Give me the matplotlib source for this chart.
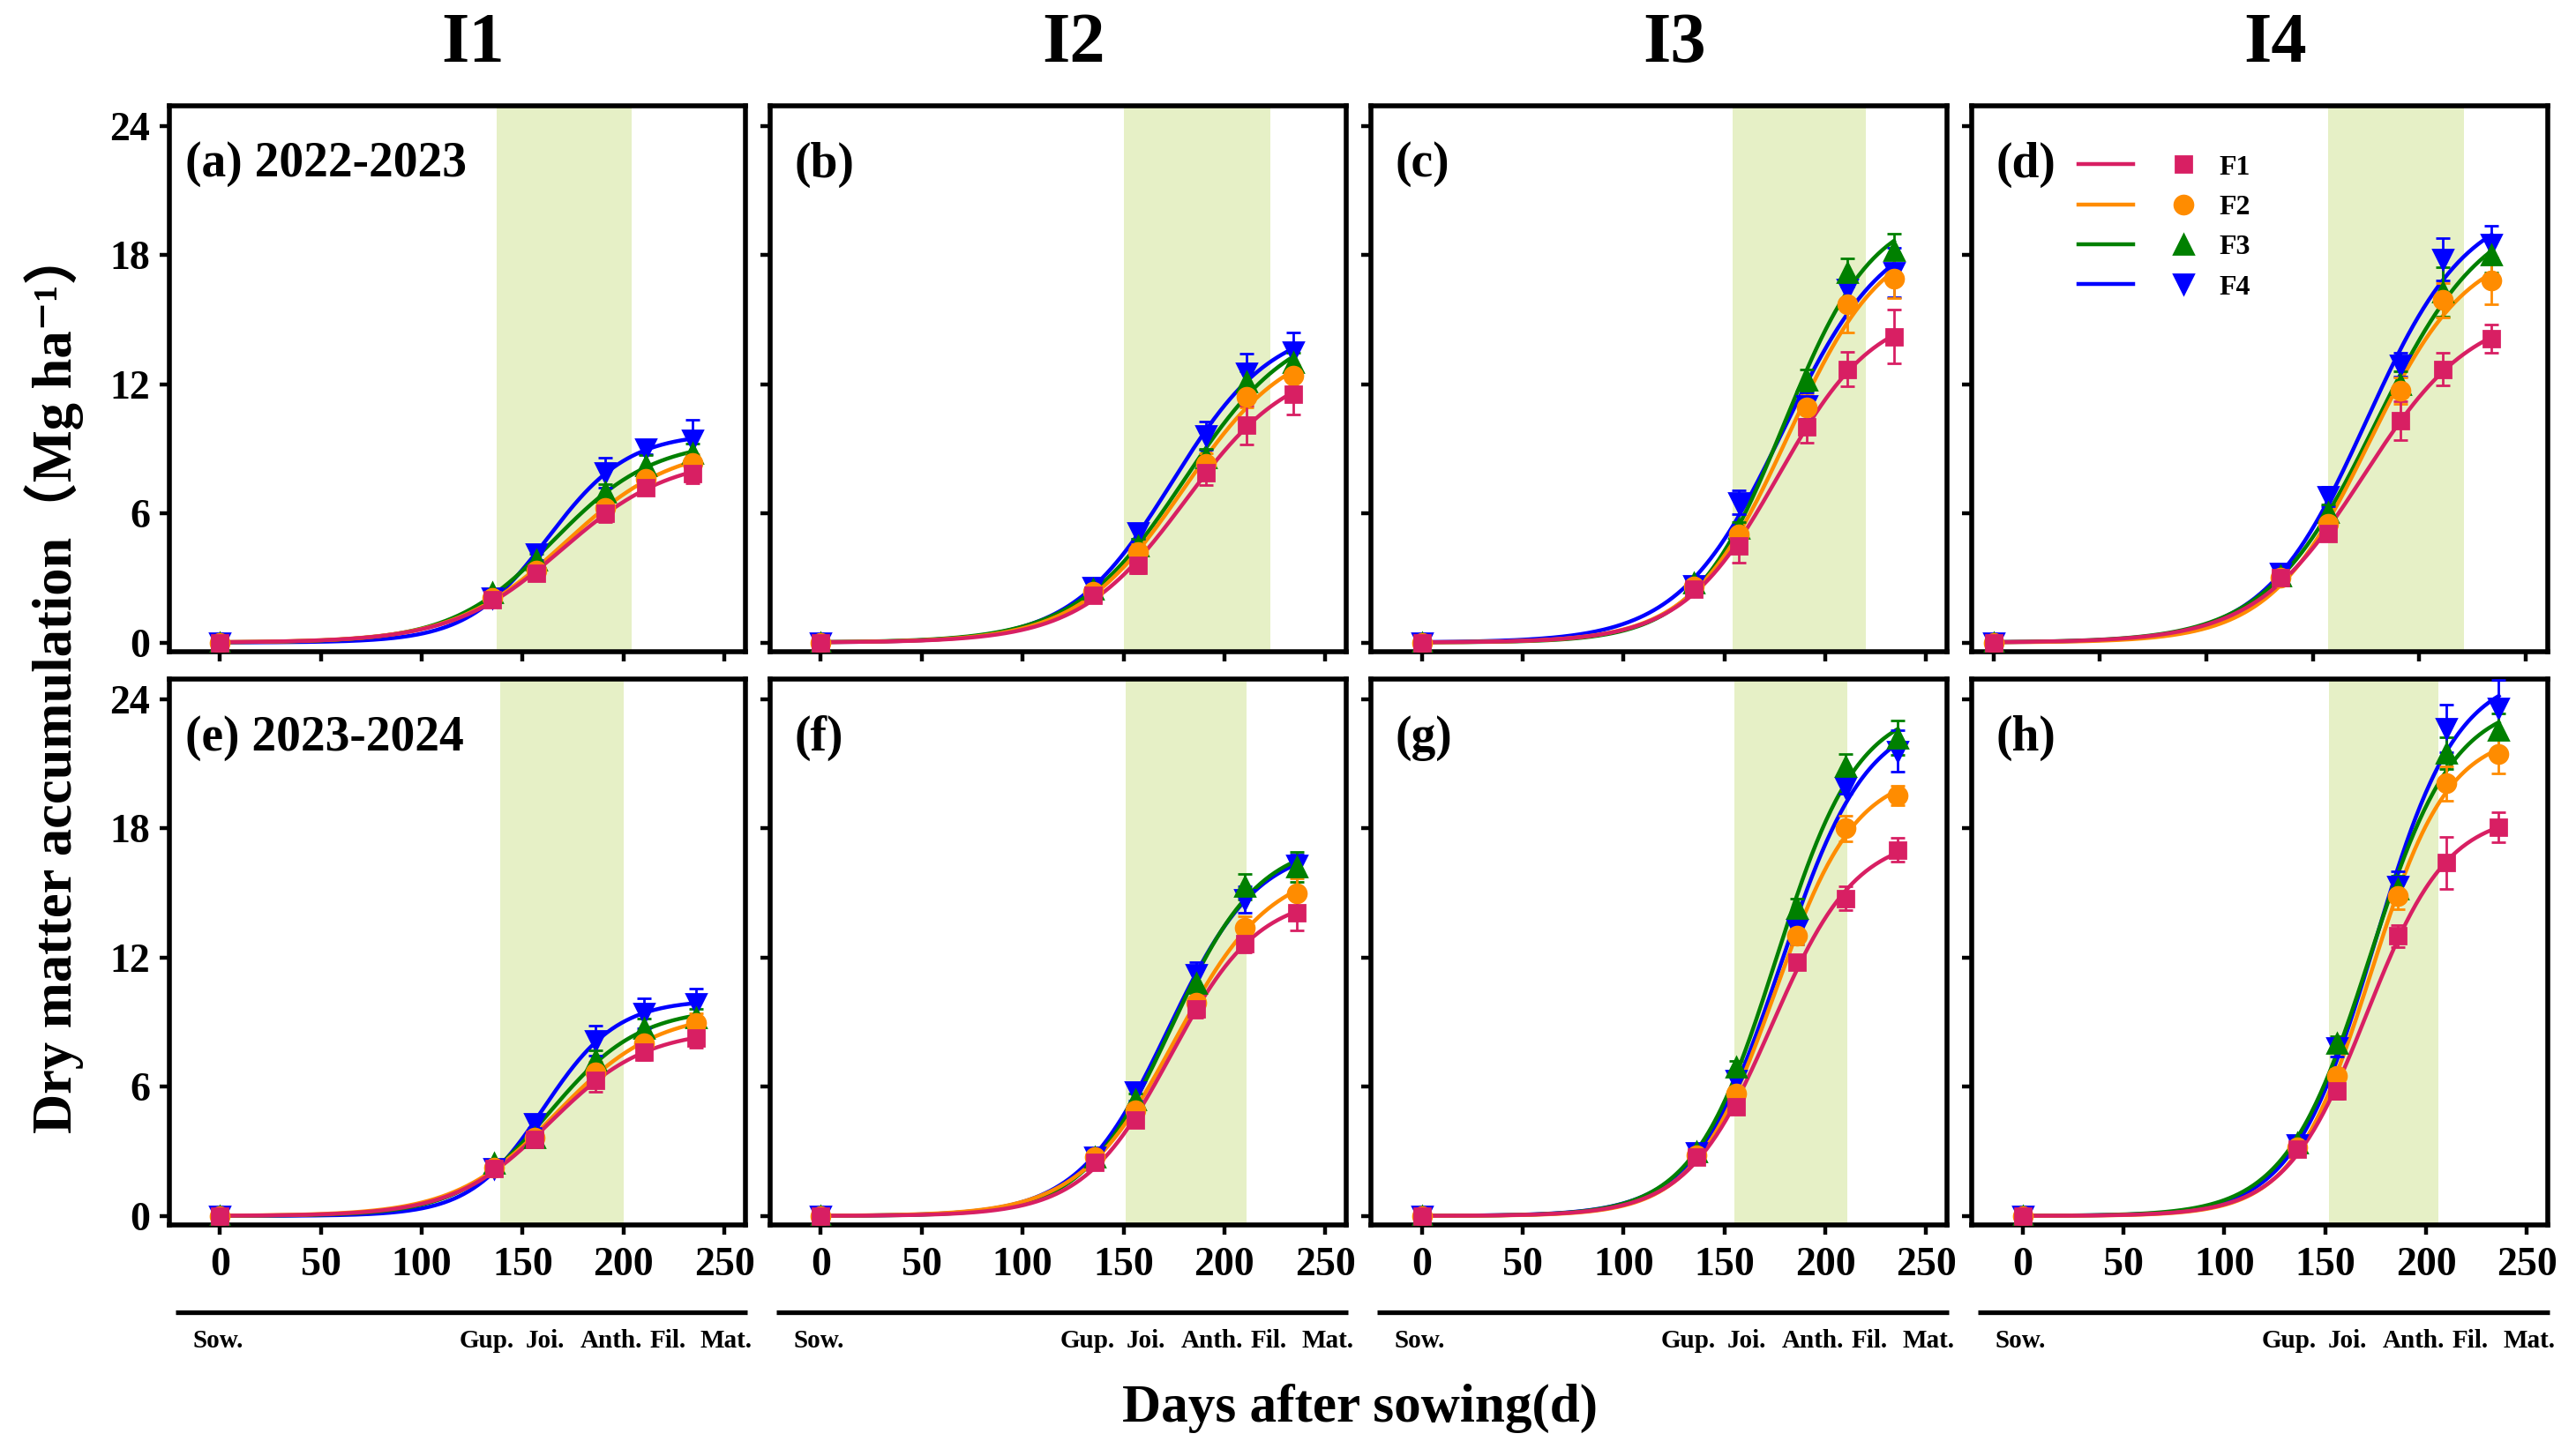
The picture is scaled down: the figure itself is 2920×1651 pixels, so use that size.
import numpy as np
import matplotlib
matplotlib.use('Agg')
import matplotlib.pyplot as plt
from matplotlib.lines import Line2D
from matplotlib.legend_handler import HandlerTuple
import matplotlib.transforms as mtransforms

plt.rcParams['font.family'] = ['Liberation Serif', 'Noto Sans CJK SC', 'DejaVu Serif']
plt.rcParams['font.weight'] = 'bold'

# sampling days (days after sowing)
days_2223 = [0, 135, 157, 191, 211, 234]
days_2324 = [0, 136, 156, 186, 210, 236]

treatments = ['F1', 'F2', 'F3', 'F4']
colors = ['#d81f63', '#ff8c00', '#008000', '#0000ff']
markers = ['s', 'o', '^', 'v']
msizes = [6.5, 7.5, 8, 8]

irrigation = ['I1', 'I2', 'I3', 'I4']
panel_tags = ['(a) 2022-2023', '(b)', '(c)', '(d)', '(e) 2023-2024', '(f)', '(g)', '(h)']

# dry matter (Mg ha-1), rows F1..F4
dm_a = [[0, 2.0, 3.2, 6.0, 7.2, 7.85],
        [0, 2.05, 3.35, 6.25, 7.6, 8.35],
        [0, 2.3, 3.85, 7.0, 8.2, 8.8],
        [0, 2.05, 4.1, 7.9, 9.0, 9.4]]
dm_b = [[0, 2.2, 3.6, 7.9, 10.1, 11.55],
        [0, 2.35, 4.2, 8.3, 11.4, 12.4],
        [0, 2.5, 4.5, 8.6, 12.1, 13.0],
        [0, 2.55, 5.1, 9.6, 12.5, 13.5]]
dm_c = [[0, 2.5, 4.5, 10.0, 12.7, 14.2],
        [0, 2.6, 5.0, 10.9, 15.7, 16.9],
        [0, 2.75, 5.3, 12.2, 17.2, 18.2],
        [0, 2.65, 6.5, 11.0, 16.4, 17.2]]
dm_d = [[0, 3.0, 5.05, 10.3, 12.7, 14.1],
        [0, 3.0, 5.5, 11.7, 15.9, 16.8],
        [0, 3.1, 6.05, 12.0, 16.3, 18.0],
        [0, 3.2, 6.8, 12.9, 17.8, 18.5]]
dm_e = [[0, 2.2, 3.55, 6.3, 7.6, 8.25],
        [0, 2.25, 3.65, 6.65, 8.0, 8.95],
        [0, 2.45, 3.65, 7.25, 8.7, 9.2],
        [0, 2.2, 4.3, 8.15, 9.4, 9.85]]
dm_f = [[0, 2.5, 4.45, 9.6, 12.65, 14.1],
        [0, 2.75, 4.9, 9.9, 13.4, 15.0],
        [0, 2.75, 5.4, 10.8, 15.3, 16.2],
        [0, 2.75, 5.75, 11.2, 14.7, 16.3]]
dm_g = [[0, 2.75, 5.05, 11.8, 14.75, 17.0],
        [0, 2.8, 5.7, 13.0, 18.0, 19.55],
        [0, 3.0, 6.9, 14.3, 20.9, 22.2],
        [0, 2.95, 6.3, 13.3, 19.9, 21.6]]
dm_h = [[0, 3.1, 5.8, 13.0, 16.4, 18.05],
        [0, 3.2, 6.5, 14.85, 20.1, 21.45],
        [0, 3.4, 8.0, 15.2, 21.5, 22.55],
        [0, 3.3, 7.8, 15.3, 22.65, 23.6]]

# standard errors
err_a = [[0.05, 0.15, 0.2, 0.4, 0.35, 0.45],
         [0.05, 0.15, 0.2, 0.35, 0.35, 0.4],
         [0.05, 0.15, 0.25, 0.35, 0.5, 0.45],
         [0.05, 0.15, 0.25, 0.7, 0.25, 0.95]]
err_b = [[0.05, 0.2, 0.4, 0.6, 0.9, 0.95],
         [0.05, 0.2, 0.35, 0.5, 0.5, 0.5],
         [0.05, 0.2, 0.3, 0.4, 0.5, 0.45],
         [0.05, 0.15, 0.3, 0.65, 0.9, 0.9]]
err_c = [[0.05, 0.15, 0.8, 0.7, 0.8, 1.25],
         [0.05, 0.15, 0.3, 0.6, 1.3, 0.9],
         [0.05, 0.15, 0.3, 0.5, 0.65, 0.8],
         [0.05, 0.2, 0.55, 0.6, 0.6, 1.15]]
err_d = [[0.05, 0.2, 0.3, 0.9, 0.75, 0.65],
         [0.05, 0.2, 0.3, 0.6, 0.8, 1.1],
         [0.05, 0.2, 0.35, 0.6, 1.15, 0.8],
         [0.05, 0.2, 0.45, 0.55, 1.0, 0.85]]
err_e = [[0.05, 0.15, 0.2, 0.55, 0.35, 0.45],
         [0.05, 0.15, 0.25, 0.5, 0.45, 0.45],
         [0.05, 0.15, 0.2, 0.45, 0.45, 0.4],
         [0.05, 0.15, 0.2, 0.7, 0.7, 0.7]]
err_f = [[0.05, 0.2, 0.2, 0.4, 0.4, 0.85],
         [0.05, 0.2, 0.3, 0.5, 0.5, 0.7],
         [0.05, 0.15, 0.3, 0.6, 0.6, 0.7],
         [0.05, 0.15, 0.4, 0.6, 0.6, 0.5]]
err_g = [[0.05, 0.2, 0.3, 0.3, 0.55, 0.55],
         [0.05, 0.2, 0.3, 0.4, 0.6, 0.45],
         [0.05, 0.2, 0.3, 0.45, 0.55, 0.8],
         [0.05, 0.2, 0.3, 0.7, 0.3, 0.95]]
err_h = [[0.05, 0.2, 0.35, 0.5, 1.2, 0.7],
         [0.05, 0.2, 0.35, 0.6, 0.8, 0.9],
         [0.05, 0.2, 0.35, 0.6, 0.75, 0.8],
         [0.05, 0.2, 0.4, 0.7, 1.1, 1.3]]

# jointing - filling window shaded in each panel
shade = [(137, 204), (150, 223), (154, 220), (157, 221),
         (139, 200), (151, 211), (155, 211), (152, 206)]

stage_names = ['Sow.', 'Gup.', 'Joi.', 'Anth.', 'Fil.', 'Mat.']
stage_pos = [-1, 132, 161, 194, 222, 251]

dm_all = [dm_a, dm_b, dm_c, dm_d, dm_e, dm_f, dm_g, dm_h]
err_all = [err_a, err_b, err_c, err_d, err_e, err_f, err_g, err_h]


def logistic_fit(t, y):
    t = np.asarray(t, float)
    y = np.asarray(y, float)
    bs = np.linspace(0.02, 0.2, 181)
    ms = np.linspace(100, 260, 321)
    B, M = np.meshgrid(bs, ms, indexing='ij')
    f = 1.0 / (1.0 + np.exp(-B[..., None] * (t - M[..., None])))
    K = (f * y).sum(-1) / (f * f).sum(-1)
    sse = ((K[..., None] * f - y) ** 2).sum(-1)
    i = np.unravel_index(sse.argmin(), sse.shape)
    return K[i], B[i], M[i]


fig, axes = plt.subplots(2, 4, figsize=(14.6, 8.255), dpi=200)
fig.subplots_adjust(left=0.0658, right=0.9892, top=0.9276, bottom=0.1587,
                    wspace=0.043, hspace=0.05)

for k, ax in enumerate(axes.flat):
    row, col = divmod(k, 4)
    days = days_2223 if row == 0 else days_2324
    ax.axvspan(shade[k][0], shade[k][1], color='#e6f0c6', lw=0, zorder=0)
    for j in [3, 2, 1, 0]:
        y = dm_all[k][j]
        K, b, m = logistic_fit(days, y)
        tt = np.linspace(0, days[-1], 300)
        ax.plot(tt, K / (1 + np.exp(-b * (tt - m))), color=colors[j], lw=1.6, zorder=3)
        ax.errorbar(days, y, yerr=err_all[k][j], fmt=markers[j], color=colors[j],
                    ms=msizes[j], capsize=3, elinewidth=1, capthick=1, zorder=4)

    ax.set_ylim(-0.42, 24.95)
    if k == 3:
        ax.set_xlim(-10, 260.5)
    else:
        ax.set_xlim(-25, 260.5)
    ax.set_xticks([0, 50, 100, 150, 200, 250])
    ax.set_yticks([0, 6, 12, 18, 24])
    ax.tick_params(direction='out', length=4, width=1.6, labelsize=16.5)
    ax.tick_params(axis='x', pad=5)
    ax.tick_params(axis='y', pad=4)
    for s in ax.spines.values():
        s.set_linewidth(2.0)
    if row == 0:
        ax.set_xticklabels([])
        ax.text(0.526, 1.111, irrigation[col], transform=ax.transAxes,
                ha='center', va='center', fontsize=29, fontweight='bold')
    if col != 0:
        ax.set_yticklabels([])
    for lab in ax.get_xticklabels() + ax.get_yticklabels():
        lab.set_fontweight('bold')

    xoff = 0.028 if col == 0 else 0.042
    ax.text(xoff, 0.892, panel_tags[k], transform=ax.transAxes,
            ha='left', va='center', fontsize=20, fontweight='bold')

    if row == 1:
        ax.plot([0.01, 1.003], [-0.16, -0.16], transform=ax.transAxes,
                color='black', lw=1.9, clip_on=False, solid_capstyle='butt')
        trans = mtransforms.blended_transform_factory(ax.transData, ax.transAxes)
        for nm, xp in zip(stage_names, stage_pos):
            ax.text(xp, -0.213, nm, transform=trans, ha='center', va='center',
                    fontsize=10.5, fontweight='bold')

# legend in panel (d)
ax_d = axes[0, 3]
handles = []
for j in range(4):
    ln = Line2D([], [], color=colors[j], lw=1.6)
    mk = Line2D([], [], color=colors[j], marker=markers[j], ls='none', ms=msizes[j])
    handles.append((ln, mk))
ax_d.legend(handles, treatments, handler_map={tuple: HandlerTuple(ndivide=None, pad=0.8)},
            loc='upper left', bbox_to_anchor=(0.184, 0.91), frameon=False,
            borderpad=0, borderaxespad=0, handlelength=4.7, handletextpad=0.3,
            labelspacing=0.5, prop={'size': 11.5, 'weight': 'bold'})

fig.text(0.021, 0.532, 'Dry matter accumulation（Mg ha⁻¹）', rotation=90,
         ha='center', va='center', fontsize=22.5, fontweight='bold')
fig.text(0.528, 0.033, 'Days after sowing(d)', ha='center', va='center',
         fontsize=22, fontweight='bold')

fig.savefig('out.png', dpi=200)
